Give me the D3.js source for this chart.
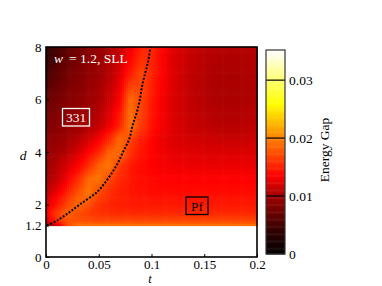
<!DOCTYPE html>
<html>
<head>
<meta charset="utf-8">
<script src="https://cdn.jsdelivr.net/npm/d3@7"></script>
<style>
  body { margin: 0; background: #fff; }
  svg text { font-family: "Liberation Serif", "Times New Roman", serif; font-size: 13.5px; }
</style>
</head>
<body>
<div id="chart"></div>
<script>

// grid columns (t) and rows (d) of the gap map
var tValues = [0, 0.01, 0.02, 0.03, 0.04, 0.05, 0.06, 0.07, 0.08, 0.09, 0.1,
               0.11, 0.12, 0.13, 0.14, 0.15, 0.16, 0.17, 0.18, 0.19, 0.2];
var dValues = [1.2, 1.4, 1.7, 2, 2.5, 3, 3.5, 4, 4.5, 5, 6, 7, 8];

// energy gap, units of 1e-3, one row per d value
var gapRows = [
  [10, 11, 17, 19.5, 19.5, 19.5, 19.5, 19.5, 19.5, 19.5, 19.5, 19.5, 19.5, 19.5, 19.5, 19.5, 19.5, 19.5, 19.5, 19.5, 19.5],
  [11.5, 15.5, 17.5, 17.5, 17.2, 17, 17, 17, 17, 17, 17, 17, 17, 17, 17, 17, 17, 17, 17, 17, 17],
  [13, 16.5, 18.5, 17.5, 16.5, 16, 15.7, 15.5, 15.5, 15.5, 15.5, 15.5, 15.5, 15.5, 15.5, 15.5, 15.5, 15.5, 15.5, 15.5, 15.5],
  [12, 14.5, 17, 19, 17.5, 16, 15.3, 15, 14.8, 14.7, 14.7, 14.7, 14.7, 14.7, 14.7, 14.7, 14.7, 14.7, 14.7, 14.7, 14.7],
  [11, 12.8, 15, 17.5, 19.5, 17.5, 15.8, 15, 14.6, 14.3, 14.1, 14, 14, 14, 14, 14, 14, 14, 14, 14, 14],
  [10, 11.3, 13, 15.5, 18.5, 19.5, 17, 15.5, 14.6, 14.1, 13.8, 13.6, 13.5, 13.5, 13.5, 13.5, 13.5, 13.5, 13.5, 13.5, 13.5],
  [9.8, 10.8, 12, 13.5, 15.5, 18.5, 19.5, 16.5, 14.8, 14, 13.5, 13.2, 13, 12.9, 12.8, 12.8, 12.8, 12.8, 12.8, 12.8, 12.8],
  [9.5, 10, 10.8, 12, 13.5, 15.5, 18.5, 19, 16, 14.5, 13.6, 13, 12.6, 12.4, 12.3, 12.2, 12.2, 12.2, 12.2, 12.2, 12.2],
  [9, 9.4, 10, 10.8, 11.8, 13.2, 15.5, 19, 17, 15, 13.7, 12.8, 12.3, 12, 11.8, 11.7, 11.6, 11.5, 11.5, 11.5, 11.6],
  [8, 8.8, 9.4, 9.9, 10.5, 11.3, 12.8, 15.5, 19.5, 16.5, 14.5, 13.2, 12.3, 11.8, 11.4, 11.2, 11, 10.9, 10.9, 11, 11.2],
  [7, 7.8, 8.5, 9, 9.6, 10.4, 11.5, 13.5, 19, 17, 14.8, 13.2, 12.2, 11.6, 11.1, 10.8, 10.5, 10.4, 10.4, 10.5, 10.6],
  [5, 6.5, 7.5, 8.4, 9.1, 9.9, 10.8, 12.3, 14.8, 17, 15.5, 13.5, 12.3, 11.6, 11.1, 10.8, 10.5, 10.4, 10.4, 10.5, 10.6],
  [3.5, 5, 6.5, 7.5, 8.5, 9.4, 10.3, 11.3, 12.8, 15, 15.5, 13.5, 12.3, 11.8, 11.3, 11, 10.8, 10.7, 10.7, 10.7, 10.8]
];

// phase boundary (dashed line)
var boundaryD = [1.2, 1.4, 1.7, 2, 2.5, 3, 3.5, 4, 4.5, 5, 5.5, 6, 6.5, 7, 7.5, 8];
var boundaryT = [0.001, 0.011, 0.022, 0.032, 0.049, 0.059, 0.067, 0.073, 0.079, 0.082, 0.086, 0.089, 0.091, 0.094, 0.097, 0.099];

var xTicks = [0, 0.05, 0.1, 0.15, 0.2];
var yTicks = [0, 1.2, 2, 4, 6, 8];
var cbTicks = [0, 0.01, 0.02, 0.03];

var colorStops = [0, 0.004, 0.01, 0.0135, 0.02, 0.026, 0.03, 0.0352];
var colorList = ['#000000', '#300000', '#a00000', '#ff0000', '#ff8000', '#ffff00', '#ffff70', '#ffffff'];

var width = 382, height = 286;

var svg = d3.select('#chart')
  .append('svg')
    .attr('width', width)
    .attr('height', height);

var x = d3.scaleLinear().domain([0, 0.2]).range([46, 257]);
var y = d3.scaleLinear().domain([0, 8]).range([257, 47]);
var color = d3.scaleLinear().domain(colorStops).range(colorList).clamp(true);

// bilinear lookup in the grid
var colIdx = d3.scaleLinear().domain(tValues).range(d3.range(tValues.length)).clamp(true);
var rowIdx = d3.scaleLinear().domain(dValues).range(d3.range(dValues.length)).clamp(true);
function gapAt(t, d){
  var ci = colIdx(t), ri = rowIdx(d);
  var c0 = Math.min(Math.floor(ci), tValues.length - 2),
      r0 = Math.min(Math.floor(ri), dValues.length - 2);
  var fc = ci - c0, fr = ri - r0;
  var v = (1 - fc) * (1 - fr) * gapRows[r0][c0] + fc * (1 - fr) * gapRows[r0][c0 + 1] +
          (1 - fc) * fr * gapRows[r0 + 1][c0] + fc * fr * gapRows[r0 + 1][c0 + 1];
  return v / 1000;
}

// Draw heat map cells
var tStep = 0.002, dStep = 0.08, cells = [];
for (var t0 = 0; t0 < 0.2 - 1e-9; t0 += tStep){
  for (var d0 = 1.2; d0 < 8 - 1e-9; d0 += dStep){
    cells.push({ t: t0, d: d0, v: gapAt(t0 + tStep / 2, d0 + dStep / 2) });
  }
}
svg.append('g')
  .selectAll('rect')
  .data(cells)
  .enter()
    .append('rect')
      .attr('x', function(c){ return x(c.t); })
      .attr('y', function(c){ return y(c.d + dStep); })
      .attr('width', function(c){ return x(c.t + tStep) - x(c.t) + 0.6; })
      .attr('height', function(c){ return y(c.d) - y(c.d + dStep) + 0.6; })
      .attr('fill', function(c){ return color(c.v); });

// Draw phase boundary
var boundary = boundaryD.map(function(d, i){ return { t: boundaryT[i], d: d }; });
svg.append('path')
  .datum(boundary)
  .attr('fill', 'none')
  .attr('stroke', '#000')
  .attr('stroke-width', 2)
  .attr('stroke-dasharray', '2,1.6')
  .attr('d', d3.line()
    .x(function(p){ return x(p.t); })
    .y(function(p){ return y(p.d); })
    .curve(d3.curveCatmullRom));

// Axes
var xAxis = svg.append('g')
  .attr('transform', 'translate(0,' + y(0) + ')')
  .call(d3.axisBottom(x).tickValues(xTicks).tickFormat(function(d){ return d; }).tickSize(-3).tickPadding(2.5));
var yAxis = svg.append('g')
  .attr('transform', 'translate(' + x(0) + ',0)')
  .call(d3.axisLeft(y).tickValues(yTicks).tickFormat(function(d){ return d; }).tickSize(-3).tickPadding(4.5));
[xAxis, yAxis].forEach(function(a){
  a.select('.domain').remove();
  a.selectAll('text').attr('fill', '#000').style('font-size', '13px');
  a.selectAll('line').attr('stroke', '#000');
});

// Frame
svg.append('rect')
  .attr('x', x(0))
  .attr('y', y(8))
  .attr('width', x(0.2) - x(0))
  .attr('height', y(0) - y(8))
  .attr('fill', 'none')
  .attr('stroke', '#000')
  .attr('stroke-width', 1.6);

// Axis labels
svg.append('text')
  .attr('x', 150).attr('y', 283)
  .attr('text-anchor', 'middle')
  .style('font-style', 'italic')
  .style('font-size', '12.5px')
  .text('t');
svg.append('text')
  .attr('x', 23).attr('y', 160)
  .attr('text-anchor', 'middle')
  .style('font-style', 'italic')
  .text('d');

// Annotations
var title = svg.append('text')
  .attr('x', 54).attr('y', 63)
  .attr('fill', '#fff');
title.append('tspan').style('font-style', 'italic').text('w');
title.append('tspan').text('\u2009 = 1.2, SLL');

svg.append('rect')
  .attr('x', 62.5).attr('y', 108.5).attr('width', 27).attr('height', 17.5)
  .attr('fill', 'none').attr('stroke', '#fff').attr('stroke-width', 1.3);
svg.append('text')
  .attr('x', 76).attr('y', 122)
  .attr('text-anchor', 'middle')
  .attr('fill', '#fff')
  .text('331');

svg.append('rect')
  .attr('x', 186).attr('y', 197).attr('width', 22).attr('height', 17.5)
  .attr('fill', 'none').attr('stroke', '#000').attr('stroke-width', 1.3);
svg.append('text')
  .attr('x', 197).attr('y', 210.5)
  .attr('text-anchor', 'middle')
  .attr('fill', '#000')
  .text('Pf');

// Color bar
var cb = d3.scaleLinear().domain([0, 0.0352]).range([254, 50]);
var cbX = 266, cbW = 19;
var cbSteps = d3.range(0, 0.0352, 0.0002);
svg.append('g')
  .selectAll('rect')
  .data(cbSteps)
  .enter()
    .append('rect')
      .attr('x', cbX)
      .attr('y', function(v){ return cb(v + 0.0002); })
      .attr('width', cbW)
      .attr('height', function(v){ return cb(v) - cb(v + 0.0002) + 0.5; })
      .attr('fill', function(v){ return color(v + 0.0001); });

svg.append('g')
  .selectAll('line')
  .data(cbTicks.slice(1))
  .enter()
    .append('line')
      .attr('x1', cbX).attr('x2', cbX + cbW)
      .attr('y1', function(v){ return cb(v); })
      .attr('y2', function(v){ return cb(v); })
      .attr('stroke', '#000')
      .attr('stroke-width', 1.2);

svg.append('rect')
  .attr('x', cbX).attr('y', cb(0.0352))
  .attr('width', cbW).attr('height', cb(0) - cb(0.0352))
  .attr('fill', 'none')
  .attr('stroke', '#333')
  .attr('stroke-width', 1.2);

svg.append('g')
  .selectAll('text')
  .data(cbTicks)
  .enter()
    .append('text')
      .attr('x', 289)
      .attr('y', function(v){ return cb(v); })
      .attr('dy', '0.35em')
      .text(function(v){ return v; });

svg.append('text')
  .attr('transform', 'translate(329,150) rotate(-90)')
  .attr('text-anchor', 'middle')
  .text('Energy Gap');

</script>
</body>
</html>
